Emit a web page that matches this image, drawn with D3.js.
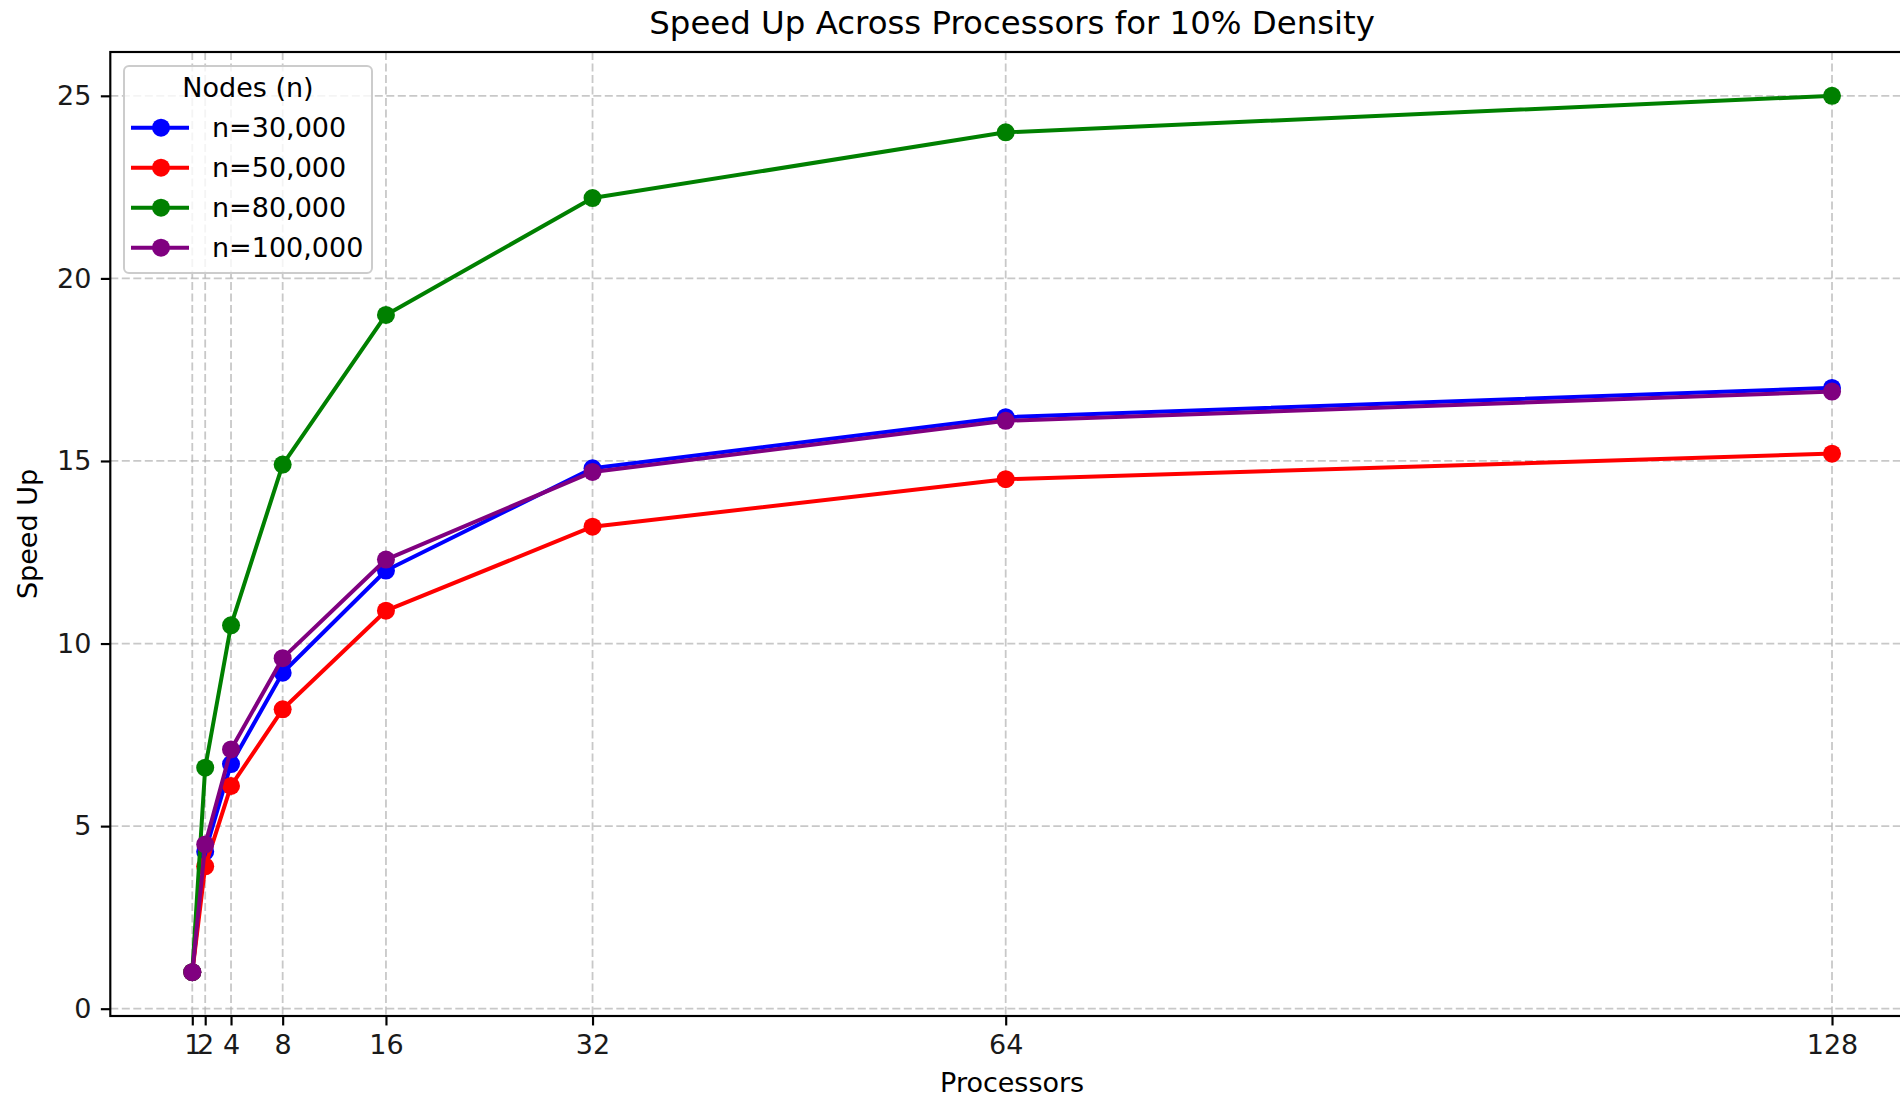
<!DOCTYPE html>
<html>
<head>
<meta charset="utf-8">
<script src="https://cdn.jsdelivr.net/npm/d3@7"></script>
<style>
  html, body { margin: 0; padding: 0; background: #ffffff; overflow: hidden; }
  svg { display: block; font-family: "DejaVu Sans", sans-serif; }
</style>
</head>
<body>
<svg id="chart" width="1900" height="1095"></svg>
<script>
// Processor counts on the x axis
const processors = [1, 2, 4, 8, 16, 32, 64, 128];

// Speed-up per graph size
const seriesNames = ["n=30,000", "n=50,000", "n=80,000", "n=100,000"];
const seriesColors = ["#0000ff", "#ff0000", "#008000", "#800080"];
const speedup30k  = [1.0, 4.3, 6.7, 9.2, 12.0, 14.8, 16.2, 17.0];
const speedup50k  = [1.0, 3.9, 6.1, 8.2, 10.9, 13.2, 14.5, 15.2];
const speedup80k  = [1.0, 6.6, 10.5, 14.9, 19.0, 22.2, 24.0, 25.0];
const speedup100k = [1.0, 4.5, 7.1, 9.6, 12.3, 14.7, 16.1, 16.9];
const seriesValues = [speedup30k, speedup50k, speedup80k, speedup100k];

const xTicks = [1, 2, 4, 8, 16, 32, 64, 128];
const yTicks = [0, 5, 10, 15, 20, 25];

const titleText = "Speed Up Across Processors for 10% Density";
const xLabel = "Processors";
const yLabel = "Speed Up";
const legendTitle = "Nodes (n)";

// Plot area (right edge runs past the window)
const plotLeft = 110.3, plotRight = 1914, plotTop = 52, plotBottom = 1016;
const fs = 27;

const svg = d3.select("#chart");

const x = d3.scaleLinear().domain([-5.35, 134.35]).range([plotLeft, plotRight]);
const y = d3.scaleLinear().domain([-0.2, 26.2]).range([plotBottom, plotTop]);

// Grid
const grid = svg.append("g").attr("class", "grid")
  .attr("stroke", "#b0b0b0").attr("stroke-opacity", 0.7)
  .attr("stroke-width", 1.8).attr("stroke-dasharray", "8,3.5");
grid.selectAll("line.gx").data(xTicks).join("line").attr("class", "gx")
  .attr("x1", d => x(d)).attr("x2", d => x(d))
  .attr("y1", plotTop).attr("y2", plotBottom);
grid.selectAll("line.gy").data(yTicks).join("line").attr("class", "gy")
  .attr("x1", plotLeft).attr("x2", plotRight)
  .attr("y1", d => y(d)).attr("y2", d => y(d));

// Axes
const xAxis = d3.axisBottom(x).tickValues(xTicks).tickFormat(d3.format("d"))
  .tickSize(9.45).tickPadding(9.45).tickSizeOuter(0);
const yAxis = d3.axisLeft(y).tickValues(yTicks).tickFormat(d3.format("d"))
  .tickSize(9.45).tickPadding(9.45).tickSizeOuter(0);

const gx = svg.append("g").attr("transform", `translate(0,${plotBottom})`).call(xAxis);
const gy = svg.append("g").attr("transform", `translate(${plotLeft},0)`).call(yAxis);
[gx, gy].forEach(g => {
  g.select(".domain").remove();
  g.selectAll(".tick line").attr("stroke", "#000").attr("stroke-width", 2.16);
  g.selectAll(".tick text").attr("fill", "#1a1a1a")
    .style("font-size", fs + "px").style("font-family", "'DejaVu Sans', sans-serif");
});

// Spines
svg.append("rect").attr("x", plotLeft).attr("y", plotTop)
  .attr("width", plotRight - plotLeft).attr("height", plotBottom - plotTop)
  .attr("fill", "none").attr("stroke", "#000").attr("stroke-width", 2.16);

// Series lines and markers
const line = d3.line().x((d, i) => x(processors[i])).y(d => y(d));
seriesValues.forEach((vals, k) => {
  const g = svg.append("g");
  g.append("path").datum(vals).attr("d", line)
    .attr("fill", "none").attr("stroke", seriesColors[k])
    .attr("stroke-width", 4).attr("stroke-linejoin", "round").attr("stroke-linecap", "square");
  g.selectAll("circle").data(vals).join("circle")
    .attr("cx", (d, i) => x(processors[i])).attr("cy", d => y(d))
    .attr("r", 9).attr("fill", seriesColors[k]);
});

// Title and axis labels
svg.append("text").attr("x", (plotLeft + plotRight) / 2).attr("y", 34)
  .attr("text-anchor", "middle").style("font-size", "32.4px").attr("fill", "#000")
  .text(titleText);
svg.append("text").attr("x", (plotLeft + plotRight) / 2).attr("y", 1091.5)
  .attr("text-anchor", "middle").style("font-size", fs + "px").attr("fill", "#000")
  .text(xLabel);
svg.append("text").attr("transform", `translate(37,${(plotTop + plotBottom) / 2}) rotate(-90)`)
  .attr("text-anchor", "middle").style("font-size", fs + "px").attr("fill", "#000")
  .text(yLabel);

// Legend
const lg = svg.append("g").attr("class", "legend");
lg.append("rect").attr("x", 124).attr("y", 66).attr("width", 248).attr("height", 207)
  .attr("rx", 5).attr("fill", "#ffffff").attr("fill-opacity", 0.8)
  .attr("stroke", "#cccccc").attr("stroke-width", 2);
lg.append("text").attr("x", 248).attr("y", 97).attr("text-anchor", "middle")
  .style("font-size", fs + "px").attr("fill", "#000").text(legendTitle);
const entries = lg.selectAll("g.entry").data(seriesNames).join("g").attr("class", "entry")
  .attr("transform", (d, i) => `translate(0,${127.7 + i * 40})`);
entries.append("line").attr("x1", 131).attr("x2", 189).attr("y1", 0).attr("y2", 0)
  .attr("stroke", (d, i) => seriesColors[i]).attr("stroke-width", 4);
entries.append("circle").attr("cx", 161).attr("cy", 0).attr("r", 9)
  .attr("fill", (d, i) => seriesColors[i]);
entries.append("text").attr("x", 212).attr("y", 0).attr("dy", "0.36em")
  .style("font-size", fs + "px").attr("fill", "#000").text(d => d);
</script>
</body>
</html>
